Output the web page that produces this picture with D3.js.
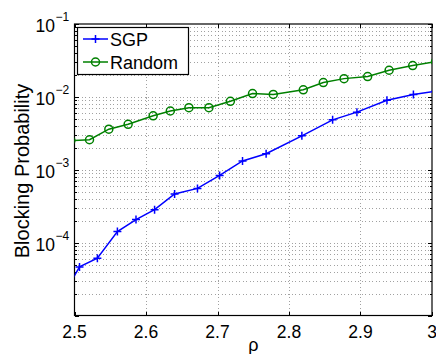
<!DOCTYPE html>
<html>
<head>
<meta charset="utf-8">
<script src="https://cdn.jsdelivr.net/npm/d3@7"></script>
<style>
html,body{margin:0;padding:0;background:#fff;}
svg{display:block;font-family:"Liberation Sans",Arial,Helvetica,sans-serif;}
</style>
</head>
<body>
<svg id="chart" width="436" height="354"></svg>
<script>
// ---- data ----
const sgpRho = [2.482, 2.507, 2.532, 2.560, 2.586, 2.612, 2.640, 2.672, 2.703, 2.735, 2.768, 2.818, 2.861, 2.895, 2.937, 2.974, 3.005];
const sgpBlock = [1.75e-5, 4.64e-5, 6.1e-5, 1.42e-4, 2.07e-4, 2.83e-4, 4.65e-4, 5.55e-4, 8.35e-4, 1.32e-3, 1.66e-3, 2.92e-3, 4.84e-3, 6.17e-3, 9.0e-3, 1.08e-2, 1.2e-2];
const randRho = [2.495, 2.521, 2.548, 2.575, 2.610, 2.634, 2.660, 2.688, 2.718, 2.749, 2.778, 2.820, 2.848, 2.877, 2.910, 2.940, 2.973, 3.005];
const randBlock = [2.51e-3, 2.58e-3, 3.6e-3, 4.2e-3, 5.5e-3, 6.4e-3, 7.1e-3, 7.1e-3, 8.7e-3, 1.11e-2, 1.08e-2, 1.25e-2, 1.57e-2, 1.78e-2, 1.9e-2, 2.32e-2, 2.69e-2, 3.04e-2];
const xTicks = [2.5, 2.6, 2.7, 2.8, 2.9, 3];
const xTickLabels = ["2.5", "2.6", "2.7", "2.8", "2.9", "3"];
const yTicks = [1e-4, 1e-3, 1e-2, 1e-1];
const yTickExp = ["−4", "−3", "−2", "−1"];
const seriesNames = ["SGP", "Random"];
const xLabel = "ρ";
const yLabel = "Blocking Probability";

// ---- layout ----
const L = 74.5, R = 432, T = 24, B = 315.5;
const svg = d3.select("#chart");
const x = d3.scaleLinear().domain([2.5, 3]).range([L, R]);
const y = d3.scaleLog().domain([1e-5, 1e-1]).range([B, T]);

svg.append("defs").append("clipPath").attr("id", "clip")
  .append("rect").attr("x", L).attr("y", T).attr("width", R - L).attr("height", B - T);

// minor y values
const yMinor = [];
for (let e = -5; e < -1; e++) for (let m = 1; m <= 9; m++) yMinor.push(m * Math.pow(10, e));

// grid
const grid = svg.append("g").attr("stroke", "#8a8a8a").attr("stroke-width", 0.8).attr("stroke-dasharray", "1,2.5").attr("shape-rendering", "crispEdges");
grid.selectAll("line.gy").data(yMinor.filter(v => v > 1e-5)).enter().append("line")
  .attr("x1", L).attr("x2", R).attr("y1", d => Math.round(y(d)) + 0.5).attr("y2", d => Math.round(y(d)) + 0.5);
grid.selectAll("line.gx").data(xTicks.slice(1, -1)).enter().append("line")
  .attr("y1", T).attr("y2", B).attr("x1", d => Math.round(x(d)) + 0.5).attr("x2", d => Math.round(x(d)) + 0.5);

// ticks (inward, all four sides)
const tk = svg.append("g").attr("stroke", "#000").attr("stroke-width", 1).attr("shape-rendering", "crispEdges");
xTicks.forEach(v => {
  const px = Math.round(x(v)) + 0.5;
  tk.append("line").attr("x1", px).attr("x2", px).attr("y1", B).attr("y2", B - 4);
  tk.append("line").attr("x1", px).attr("x2", px).attr("y1", T).attr("y2", T + 4);
});
yMinor.concat([1e-1]).forEach(v => {
  const py = Math.round(y(v)) + 0.5;
  const len = (yTicks.includes(v) || v === 1e-5) ? 4 : 2.5;
  tk.append("line").attr("x1", L).attr("x2", L + len).attr("y1", py).attr("y2", py);
  tk.append("line").attr("x1", R).attr("x2", R - len).attr("y1", py).attr("y2", py);
});

// axes box
svg.append("rect").attr("x", L).attr("y", T).attr("width", R - L).attr("height", B - T)
  .attr("fill", "none").attr("stroke", "#000").attr("stroke-width", 1.2);

// tick labels
svg.append("g").selectAll("text").data(xTicks).enter().append("text")
  .attr("x", d => x(d)).attr("y", B + 22).attr("text-anchor", "middle")
  .attr("font-size", 17.5).attr("fill", "#000").text((d, i) => xTickLabels[i]);

const yl = svg.append("g");
yTicks.forEach((v, i) => {
  yl.append("text").attr("x", 55).attr("y", y(v) + 8).attr("text-anchor", "end")
    .attr("font-size", 17.5).attr("fill", "#000").text("10");
  yl.append("text").attr("x", 55.5).attr("y", y(v) - 3).attr("text-anchor", "start")
    .attr("font-size", 12).attr("fill", "#000").text(yTickExp[i]);
});

// axis labels
svg.append("text").attr("x", (L + R) / 2).attr("y", 350.5).attr("text-anchor", "middle")
  .attr("font-size", 18).attr("fill", "#000").text(xLabel);
svg.append("text").attr("transform", `translate(28.5,171) rotate(-90)`)
  .attr("text-anchor", "middle").attr("font-size", 20).attr("fill", "#000").text(yLabel);

// series
const line = d3.line().x(d => x(d[0])).y(d => y(d[1]));
const sgp = sgpRho.map((r, i) => [r, sgpBlock[i]]);
const rnd = randRho.map((r, i) => [r, randBlock[i]]);
const plot = svg.append("g").attr("clip-path", "url(#clip)");
const blue = "#0000ff", green = "#008000";

plot.append("path").datum(rnd).attr("d", line).attr("fill", "none").attr("stroke", green).attr("stroke-width", 1.5);
plot.append("path").datum(sgp).attr("d", line).attr("fill", "none").attr("stroke", blue).attr("stroke-width", 1.5);
plot.selectAll("circle.m").data(rnd).enter().append("circle")
  .attr("cx", d => x(d[0])).attr("cy", d => y(d[1])).attr("r", 4)
  .attr("fill", "none").attr("stroke", green).attr("stroke-width", 1.5);
plot.selectAll("path.p").data(sgp).enter().append("path")
  .attr("d", "M-4,0H4M0,-4V4")
  .attr("transform", d => `translate(${x(d[0])},${y(d[1])})`)
  .attr("fill", "none").attr("stroke", blue).attr("stroke-width", 1.5);

// legend
const lg = svg.append("g");
lg.append("rect").attr("x", 77.5).attr("y", 27.5).attr("width", 111).attr("height", 47)
  .attr("fill", "#fff").attr("stroke", "#000").attr("stroke-width", 1.2);
const rows = [{name: seriesNames[0], c: blue, y: 39}, {name: seriesNames[1], c: green, y: 62}];
rows.forEach((r, i) => {
  lg.append("line").attr("x1", 83).attr("x2", 108).attr("y1", r.y).attr("y2", r.y).attr("stroke", r.c).attr("stroke-width", 1.5);
  if (i === 0) lg.append("path").attr("d", "M-4,0H4M0,-4V4").attr("transform", `translate(95.5,${r.y})`).attr("stroke", r.c).attr("stroke-width", 1.5);
  else lg.append("circle").attr("cx", 95.5).attr("cy", r.y).attr("r", 4).attr("fill", "none").attr("stroke", r.c).attr("stroke-width", 1.5);
  lg.append("text").attr("x", 110).attr("y", r.y + 6.5).attr("font-size", 18).attr("fill", "#000").text(r.name);
});
</script>
</body>
</html>
